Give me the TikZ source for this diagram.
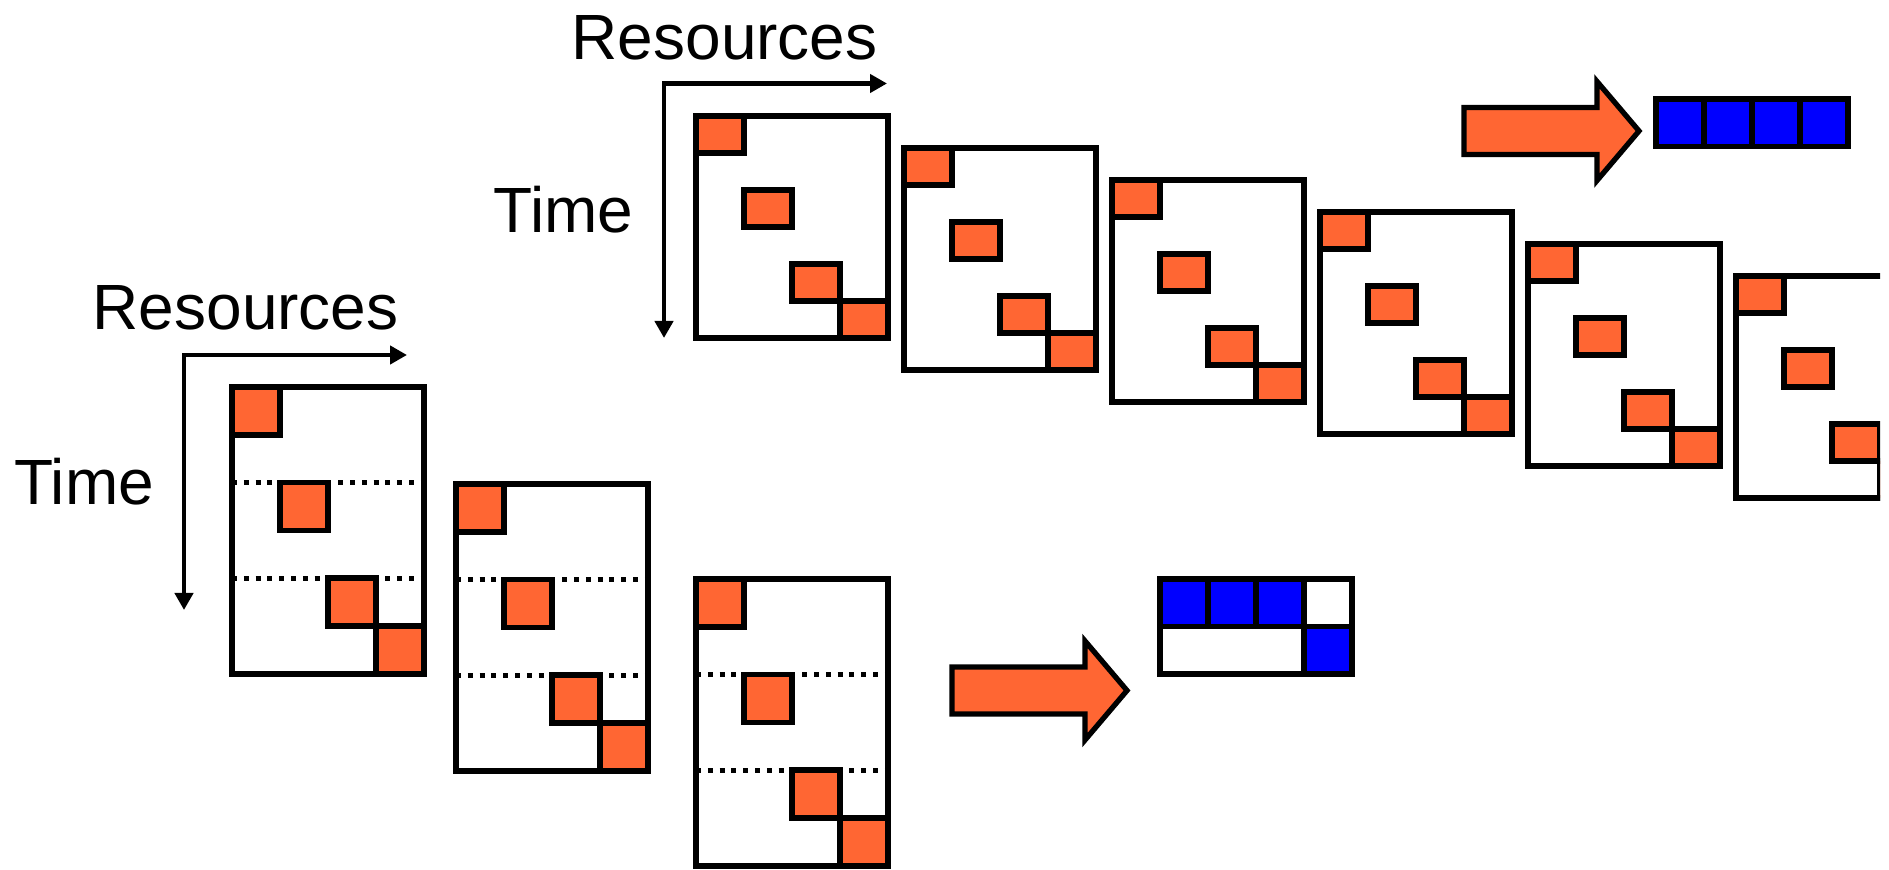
\documentclass[tikz,border=0pt]{standalone}
\usepackage{fontspec}
\setmainfont{Liberation Sans}
\usetikzlibrary{arrows.meta,calc}
\definecolor{taskorange}{RGB}{255,102,51}

\begin{document}
\begin{tikzpicture}[line join=miter,
  boxframe/.style={draw,line width=1.6pt,minimum width=1.92cm,inner sep=0pt,outer sep=0pt,anchor=north west},
  task/.style={draw,fill=taskorange,line width=1.6pt,minimum width=0.48cm,inner sep=0pt,outer sep=0pt,anchor=north west},
  cell/.style={draw,fill=blue,line width=1.6pt,minimum width=0.48cm,minimum height=0.475cm,inner sep=0pt,outer sep=0pt,anchor=north west},
  timeaxis/.style={line width=1.35pt,{Triangle[length=0.17cm,width=0.18cm]}-{Triangle[length=0.17cm,width=0.18cm]}},
  axistext/.style={inner sep=0pt,anchor=base west,font=\fontsize{18.2}{21}\selectfont},
  slot/.style={line width=1.5pt,dash pattern=on 0.05cm off 0.068cm},
  fatarrow/.style={draw,fill=taskorange,line width=1.5pt}]
\useasboundingbox (0,0) rectangle (18.89,8.69);
\clip (0,0) rectangle (18.80,8.69);
% upper row: one slot per row
\node[axistext] (ures) at (5.71,8.09) {Resources};
\node[axistext] (utime) at (4.93,6.36) {Time};
\coordinate (uo) at (6.64,7.855);
\coordinate (ur) at (8.87,7.855);
\coordinate (ut) at (6.64,5.31);
\draw[timeaxis] (ur) -- (uo) -- (ut);
\foreach \n/\x/\y in {u1/6.96/7.53,u2/9.04/7.21,u3/11.12/6.89,u4/13.20/6.57,u5/15.28/6.25,u6/17.36/5.93}{
  \node[boxframe,minimum height=2.22cm] (\n) at (\x,\y) {};
  \foreach \c/\r in {0/0,1/2,2/4,3/5}
    \node[task,minimum height=0.37cm] (\n-\c) at ($(\n.north west)+(0.48*\c,-0.37*\r)$) {};
}
% lower row: slots cut by dotted lines
\node[axistext] (lres) at (0.92,5.39) {Resources};
\node[axistext] (ltime) at (0.135,3.64) {Time};
\coordinate (lo) at (1.84,5.14);
\coordinate (lr) at (4.07,5.14);
\coordinate (lt) at (1.84,2.59);
\draw[timeaxis] (lr) -- (lo) -- (lt);
\foreach \n/\x/\y in {l1/2.32/4.82,l2/4.56/3.85,l3/6.96/2.90}{
  \node[boxframe,minimum height=2.868cm] (\n) at (\x,\y) {};
  \draw[slot] ($(\n.north west)+(0,-0.956)$) -- ($(\n.north east)+(0,-0.956)$);
  \draw[slot] ($(\n.north west)+(0,-1.912)$) -- ($(\n.north east)+(0,-1.912)$);
  \foreach \c/\r in {0/0,1/2,2/4,3/5}
    \node[task,minimum height=0.478cm] (\n-\c) at ($(\n.north west)+(0.48*\c,-0.478*\r)$) {};
}
% big arrows
\coordinate (pa) at (9.52,1.785);
\coordinate (pb) at (14.64,7.38);
\foreach \p in {pa,pb}
  \draw[fatarrow] (\p) ++(0,0.235) -- ++(1.33,0) -- ++(0,0.26) -- ++(0.42,-0.495) -- ++(-0.42,-0.495) -- ++(0,0.26) -- ++(-1.33,0) -- cycle;
% packed results
\foreach \c in {0,...,3}
  \node[cell] (q\c) at ({16.56+0.48*\c},7.70) {};
\foreach \c in {0,1,2}
  \node[cell] (r\c) at ({11.60+0.48*\c},2.90) {};
\node[cell,fill=white] (r3) at (13.04,2.90) {};
\node[cell,fill=white,minimum width=1.44cm] (s0) at (11.60,2.425) {};
\node[cell] (s1) at (13.04,2.425) {};
\end{tikzpicture}
\end{document}
